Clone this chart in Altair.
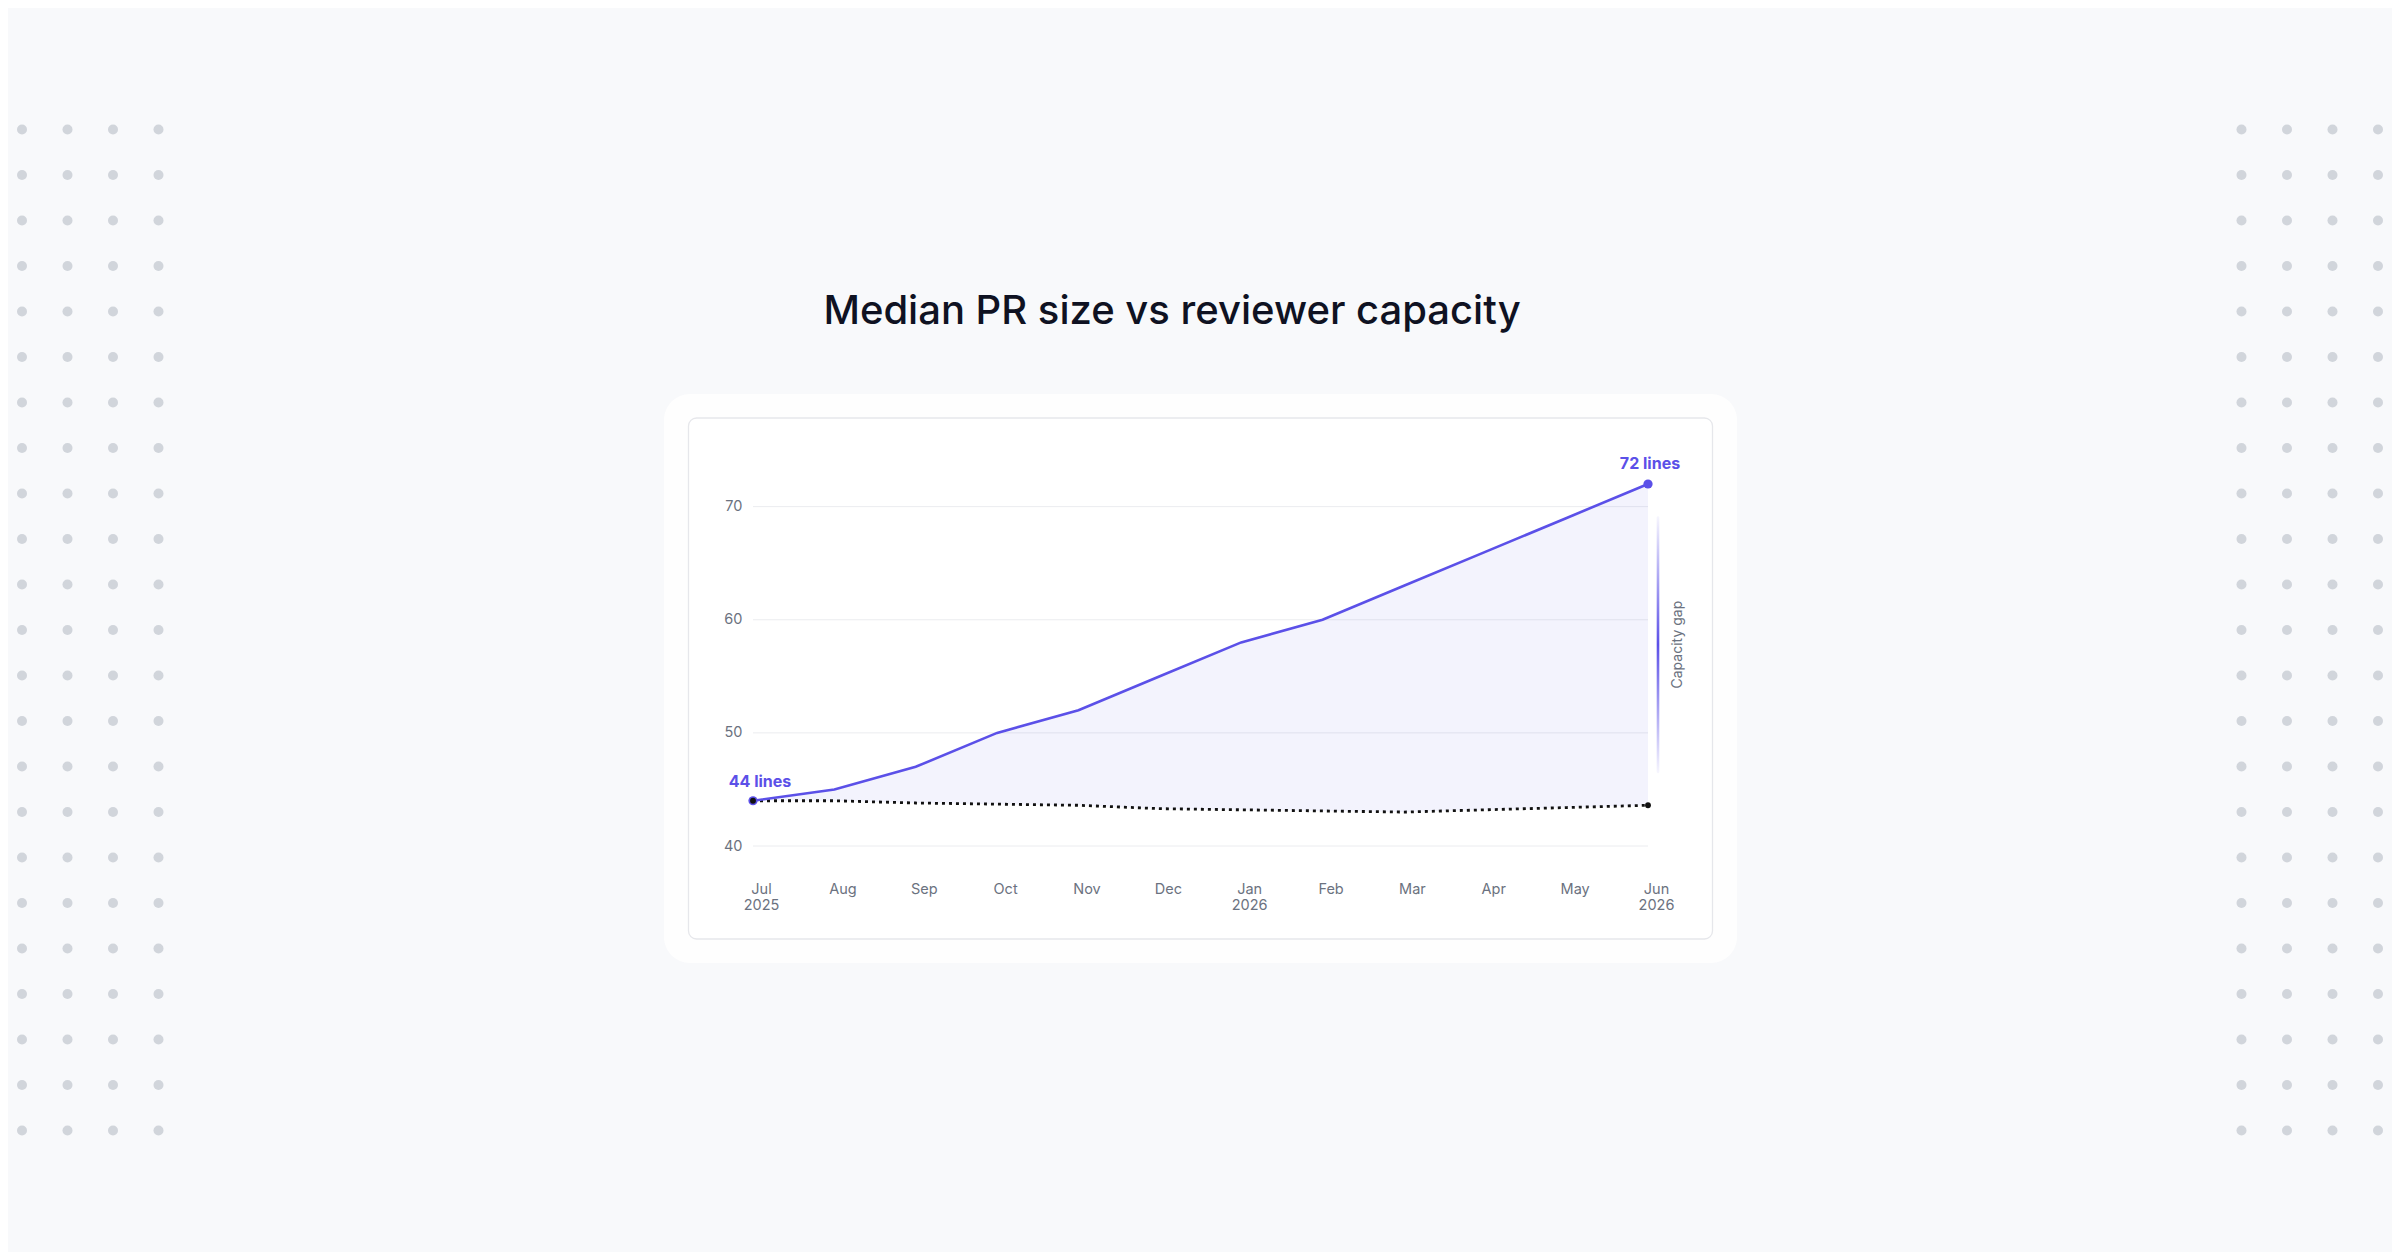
import altair as alt
import pandas as pd
import numpy as np

# ---------------- data ----------------
months = ["Jul|2025", "Aug", "Sep", "Oct", "Nov", "Dec", "Jan|2026",
          "Feb", "Mar", "Apr", "May", "Jun|2026"]
pr_size = [44, 45, 47, 50, 52, 55, 58, 60, 63, 66, 69, 72]
capacity = [44.0, 44.0, 43.8, 43.7, 43.6, 43.3, 43.2, 43.1, 43.0, 43.2, 43.4, 43.6]
y_ticks = [40, 50, 60, 70]
title_text = "Median PR size vs reviewer capacity"
gap_label = "Capacity gap"

# ---------------- styles ----------------
PURPLE = "#5b50e8"
INK = "#0f1222"
GRAY = "#6b7280"
BG = "#f8f9fb"
FONT = "Inter"

W, H = 895, 362            # plot area
OX, OY = 753, 484          # page position of plot origin

df = pd.DataFrame({"month": months, "pr": pr_size, "cap": capacity})
ends = df.iloc[[0, -1]].reset_index(drop=True)
first = df.iloc[[0]].assign(label=lambda d: d["pr"].astype(str) + " lines")
last = df.iloc[[-1]].assign(label=lambda d: d["pr"].astype(str) + " lines")

jun = df.iloc[-1]
gap_mid = (jun["pr"] + jun["cap"]) / 2
gap_half = (jun["pr"] - jun["cap"]) * 0.4
gap_df = pd.DataFrame({"month": [months[-1]], "lo": [gap_mid - gap_half],
                       "hi": [gap_mid + gap_half], "mid": [gap_mid], "text": [gap_label]})

x_scale = alt.Scale(type="point", domain=months, padding=0)
y_scale = alt.Scale(domain=[40, 72], nice=False, zero=False)

x_axis = alt.Axis(title=None, labelExpr="split(datum.label, '|')", labelAngle=0,
                  labelOverlap=False, grid=False, domain=False, ticks=False, tickSize=0,
                  labelPadding=36, labelOffset=8, labelFont=FONT, labelFontSize=14.5,
                  labelColor=GRAY, labelLineHeight=16, zindex=1)
y_axis = alt.Axis(title=None, values=y_ticks, grid=False, domain=False, ticks=False,
                  tickSize=0, labelPadding=11, labelFont=FONT, labelFontSize=14.5,
                  labelColor=GRAY, zindex=1)

X = alt.X("month:O", scale=x_scale, axis=x_axis)


def Y(field):
    return alt.Y(field, scale=y_scale, axis=y_axis)


one = pd.DataFrame({"k": [0]})

# ---------------- decoration (page background, dot pattern, cards, title) ----------------
bg = alt.Chart(one).mark_rect(color=BG).encode(
    x=alt.value(8 - OX), x2=alt.value(2392 - OX),
    y=alt.value(8 - OY), y2=alt.value(1252 - OY))

cols = np.concatenate([22 + 45.5 * np.arange(4), 2378 - 45.5 * np.arange(4)[::-1]])
rows = 129.5 + 45.5 * np.arange(23)
gx, gy = np.meshgrid(cols, rows)
dots_df = pd.DataFrame({"px": gx.ravel() - OX, "py": gy.ravel() - OY})
dots = alt.Chart(dots_df).mark_circle(size=100, color="#d1d5db", opacity=1).encode(
    x=alt.X("px:Q", scale=None), y=alt.Y("py:Q", scale=None))

outer = alt.Chart(one).mark_rect(color="#fefefe", cornerRadius=26).encode(
    x=alt.value(664 - OX), x2=alt.value(1737 - OX),
    y=alt.value(394 - OY), y2=alt.value(963 - OY))
inner = alt.Chart(one).mark_rect(fill="#ffffff", stroke="#e6e7eb", strokeWidth=1.3,
                                 cornerRadius=8).encode(
    x=alt.value(688.5 - OX), x2=alt.value(1712.5 - OX),
    y=alt.value(418 - OY), y2=alt.value(939 - OY))
title = alt.Chart(one).mark_text(font=FONT, fontSize=40, fontWeight=500, color=INK,
                                 align="center", baseline="alphabetic").encode(
    x=alt.value(1172 - OX), y=alt.value(324 - OY), text=alt.value(title_text))

# ---------------- chart ----------------
grid = alt.Chart(pd.DataFrame({"t": y_ticks})).mark_rule(color="#ebecef", strokeWidth=1).encode(
    y=Y("t:Q"))

area = alt.Chart(df).mark_area(color=PURPLE, opacity=0.07).encode(
    x=X, y=Y("pr:Q"), y2="cap:Q")
cap_line = alt.Chart(df).mark_line(color="#111111", strokeWidth=2.8, strokeDash=[3, 4]).encode(
    x=X, y=Y("cap:Q"))
pr_line = alt.Chart(df).mark_line(color=PURPLE, strokeWidth=2.6).encode(
    x=X, y=Y("pr:Q"))
pr_pts = alt.Chart(ends).mark_circle(size=85, color=PURPLE, opacity=1).encode(
    x=X, y=Y("pr:Q"))
cap_pts = alt.Chart(ends).mark_circle(size=34, color="#111111", opacity=1).encode(
    x=X, y=Y("cap:Q"))
lab_first = alt.Chart(first).mark_text(font=FONT, fontSize=16, fontWeight="bold", color=PURPLE,
                                       align="center", baseline="alphabetic", dx=7, dy=-14).encode(
    x=X, y=Y("pr:Q"), text="label:N")
lab_last = alt.Chart(last).mark_text(font=FONT, fontSize=16, fontWeight="bold", color=PURPLE,
                                     align="center", baseline="alphabetic", dx=2, dy=-15.5).encode(
    x=X, y=Y("pr:Q"), text="label:N")

bracket = alt.Chart(gap_df).mark_bar(
    width=2.6, xOffset=10, cornerRadius=1.3,
    color=alt.Gradient(gradient="linear", x1=0, x2=0, y1=0, y2=1, stops=[
        alt.GradientStop(offset=0, color="rgba(91,80,232,0.05)"),
        alt.GradientStop(offset=0.5, color="rgba(91,80,232,1)"),
        alt.GradientStop(offset=1, color="rgba(91,80,232,0.05)")])
).encode(x=X, y=Y("lo:Q"), y2="hi:Q")
gap_text = alt.Chart(gap_df).mark_text(font=FONT, fontSize=14, color=GRAY, angle=270,
                                       align="center", baseline="middle", xOffset=30).encode(
    x=X, y=Y("mid:Q"), text="text:N")

chart = alt.layer(
    bg, dots, outer, inner, title,
    grid, area, cap_line, pr_line, bracket, gap_text,
    pr_pts, cap_pts, lab_first, lab_last
).properties(
    width=W, height=H, padding=0, background=BG
).configure_view(stroke=None)

chart.save("out.html", embed_options={"renderer": "svg", "actions": False})
